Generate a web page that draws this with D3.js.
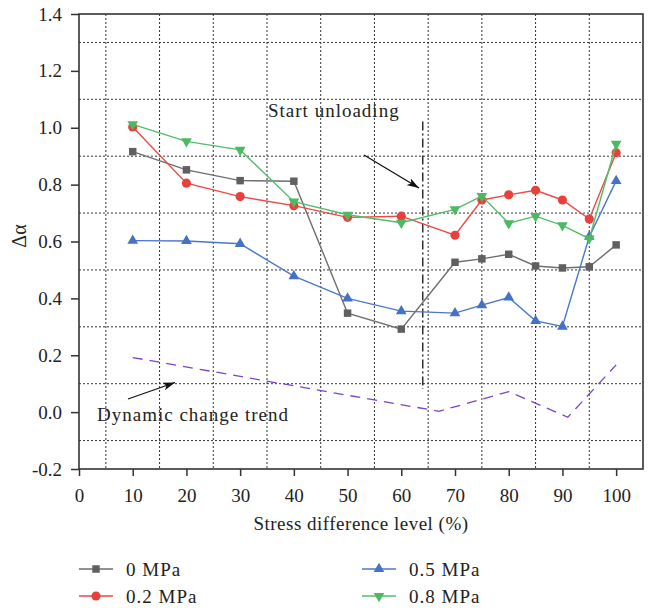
<!DOCTYPE html>
<html>
<head>
<meta charset="utf-8">
<script src="https://d3js.org/d3.v7.min.js"></script>
<style>
  body { margin: 0; background: #fff; }
  text { font-family: "Liberation Serif", "Times New Roman", Times, serif; fill: #222; }
</style>
</head>
<body>
<svg id="chart" width="653" height="608"></svg>
<script>
// stress difference levels (%)
var levels = [10, 20, 30, 40, 50, 60, 70, 75, 80, 85, 90, 95, 100];

// delta alpha for each confining pressure
var mpa0  = [0.916, 0.852, 0.814, 0.812, 0.348, 0.292, 0.527, 0.539, 0.555, 0.514, 0.507, 0.511, 0.588];
var mpa02 = [1.003, 0.805, 0.758, 0.726, 0.685, 0.689, 0.622, 0.746, 0.764, 0.780, 0.746, 0.679, 0.912];
var mpa05 = [0.603, 0.602, 0.592, 0.478, 0.400, 0.355, 0.348, 0.376, 0.403, 0.321, 0.301, 0.617, 0.813];
var mpa08 = [1.012, 0.952, 0.922, 0.740, 0.694, 0.666, 0.713, 0.760, 0.664, 0.689, 0.657, 0.610, 0.943];

// dashed trend line
var trendX = [10, 67, 80, 91, 100];
var trendY = [0.192, 0.003, 0.072, -0.018, 0.166];

var seriesNames = ["0 MPa", "0.2 MPa", "0.5 MPa", "0.8 MPa"];
var xTicks = [0, 10, 20, 30, 40, 50, 60, 70, 80, 90, 100];
var yTicks = [-0.2, 0.0, 0.2, 0.4, 0.6, 0.8, 1.0, 1.2, 1.4];
var unloadAt = 64;

var series = [
  { name: seriesNames[0], values: mpa0,  color: "#606060", line: "#6e6e6e", symbol: d3.symbolSquare,   size: 56, rot: 0 },
  { name: seriesNames[1], values: mpa02, color: "#e8413c", line: "#ea4a44", symbol: d3.symbolCircle,   size: 66, rot: 0 },
  { name: seriesNames[2], values: mpa05, color: "#4472c4", line: "#4a78c8", symbol: d3.symbolTriangle, size: 50, rot: 0 },
  { name: seriesNames[3], values: mpa08, color: "#4cb963", line: "#55bd6a", symbol: d3.symbolTriangle, size: 50, rot: 180 }
];

var svg = d3.select("#chart");
var margin = { left: 79, top: 14, right: 10, bottom: 139 };
var width = 643 - margin.left;
var height = 469 - margin.top;

var x = d3.scaleLinear().domain([0, 105]).range([0, width]);
var y = d3.scaleLinear().domain([-0.2, 1.4]).range([height, 0]);

var g = svg.append("g").attr("transform", "translate(" + margin.left + "," + margin.top + ")");

// dotted grid on the odd values
var gridX = d3.range(5, 100, 10);
var gridY = [-0.1, 0.1, 0.3, 0.5, 0.7, 0.9, 1.1, 1.3];

g.selectAll(".gx").data(gridX).enter().append("line")
  .attr("x1", d => x(d)).attr("x2", d => x(d))
  .attr("y1", 0).attr("y2", height)
  .attr("stroke", "#333").attr("stroke-width", 1).attr("stroke-dasharray", "2,2");

g.selectAll(".gy").data(gridY).enter().append("line")
  .attr("x1", 0).attr("x2", width)
  .attr("y1", d => y(d)).attr("y2", d => y(d))
  .attr("stroke", "#333").attr("stroke-width", 1).attr("stroke-dasharray", "2,2");

// axes (hyphen minus like the original, not the unicode one)
var yFmt = d3.format(".1f");
var xAxis = g.append("g")
  .attr("transform", "translate(0," + height + ")")
  .call(d3.axisBottom(x).tickValues(xTicks).tickSize(7).tickPadding(13).tickFormat(d3.format("d")));

var yAxis = g.append("g")
  .call(d3.axisLeft(y).tickValues(yTicks).tickSize(8).tickPadding(9)
    .tickFormat(d => yFmt(d).replace("\u2212", "-")));

[xAxis, yAxis].forEach(function (a) {
  a.select(".domain").remove();
  a.selectAll("line").attr("stroke", "#333").attr("stroke-width", 1.5);
  a.selectAll("text").style("font-size", "19px").attr("fill", "#222")
    .style("font-family", "'Liberation Serif', 'Times New Roman', serif");
});

// frame
g.append("rect")
  .attr("x", 0).attr("y", 0).attr("width", width).attr("height", height)
  .attr("fill", "none").attr("stroke", "#333").attr("stroke-width", 1.6);

// start of unloading, dash-dot
g.append("line")
  .attr("x1", x(unloadAt)).attr("x2", x(unloadAt))
  .attr("y1", y(1.022)).attr("y2", y(0.081))
  .attr("stroke", "#111").attr("stroke-width", 1.3).attr("stroke-dasharray", "9,3,2,3");

// trend line
var trendLine = d3.line().x(d => x(d[0])).y(d => y(d[1]));
g.append("path")
  .datum(d3.zip(trendX, trendY))
  .attr("d", trendLine)
  .attr("fill", "none").attr("stroke", "#7b45c4").attr("stroke-width", 1.3)
  .attr("stroke-dasharray", "10,7");

// series
var line = d3.line().x(d => x(d[0])).y(d => y(d[1]));

series.forEach(function (s) {
  var pts = d3.zip(levels, s.values);
  g.append("path")
    .datum(pts)
    .attr("d", line)
    .attr("fill", "none").attr("stroke", s.line).attr("stroke-width", 1.4);

  g.selectAll(null).data(pts).enter().append("path")
    .attr("d", d3.symbol().type(s.symbol).size(s.size))
    .attr("transform", d => "translate(" + x(d[0]) + "," + y(d[1]) + ") rotate(" + s.rot + ")")
    .attr("fill", s.color);
});

// arrows
var defs = svg.append("defs");
defs.append("marker")
  .attr("id", "arrow")
  .attr("viewBox", "0 0 12 8")
  .attr("refX", 12).attr("refY", 4)
  .attr("markerWidth", 12).attr("markerHeight", 8)
  .attr("markerUnits", "userSpaceOnUse")
  .attr("orient", "auto")
  .append("path").attr("d", "M0,0 L12,4 L0,8 L3,4 Z").attr("fill", "#111");

svg.append("line")
  .attr("x1", 364).attr("y1", 155).attr("x2", 419).attr("y2", 188)
  .attr("stroke", "#111").attr("stroke-width", 1.3).attr("marker-end", "url(#arrow)");

svg.append("line")
  .attr("x1", 128).attr("y1", 399).attr("x2", 175).attr("y2", 382.5)
  .attr("stroke", "#111").attr("stroke-width", 1.3).attr("marker-end", "url(#arrow)");

// annotations
svg.append("text")
  .attr("x", 268).attr("y", 117)
  .style("font-size", "19px").style("letter-spacing", "1px")
  .text("Start unloading");

svg.append("text")
  .attr("x", 97).attr("y", 421)
  .style("font-size", "19px").style("letter-spacing", "1px")
  .text("Dynamic change trend");

// axis titles
svg.append("text")
  .attr("x", margin.left + width / 2).attr("y", 529.5)
  .attr("text-anchor", "middle")
  .style("font-size", "19px").style("letter-spacing", "0.5px")
  .text("Stress difference level (%)");

svg.append("text")
  .attr("transform", "translate(26,236) rotate(-90)")
  .attr("text-anchor", "middle")
  .style("font-size", "20px")
  .text("Δα");

// legend, two columns
var legendPos = [[79, 569], [79, 596], [362, 569], [362, 596]];

series.forEach(function (s, i) {
  var lg = svg.append("g").attr("transform", "translate(" + legendPos[i][0] + "," + legendPos[i][1] + ")");
  lg.append("line")
    .attr("x1", 0).attr("x2", 34).attr("y1", 0).attr("y2", 0)
    .attr("stroke", s.line).attr("stroke-width", 1.4);
  lg.append("path")
    .attr("d", d3.symbol().type(s.symbol).size(s.size))
    .attr("transform", "translate(17,0) rotate(" + s.rot + ")")
    .attr("fill", s.color);
  lg.append("text")
    .attr("x", 47).attr("y", 6.5)
    .style("font-size", "19px").style("letter-spacing", "1px")
    .text(s.name);
});
</script>
</body>
</html>
